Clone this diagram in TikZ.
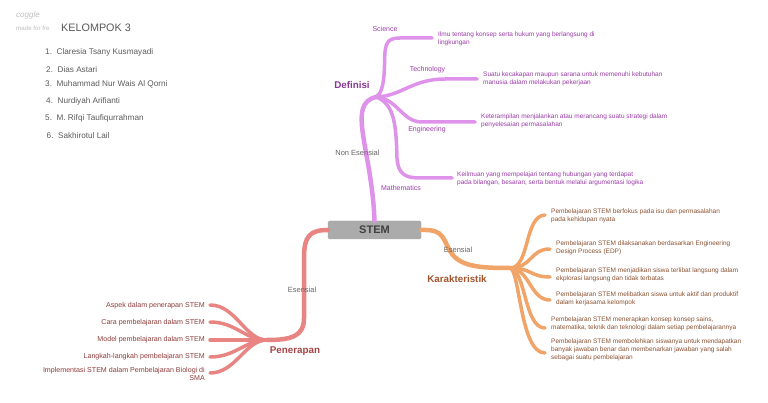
\documentclass[tikz,border=0pt]{standalone}
\usepackage{fontspec}
\setmainfont{Liberation Sans}
\definecolor{pinkline}{HTML}{DF92EA}
\definecolor{pinktext}{HTML}{9A3CA8}
\definecolor{pinkhead}{HTML}{8A3898}
\definecolor{orline}{HTML}{F0A468}
\definecolor{ortext}{HTML}{8A5232}
\definecolor{orhead}{HTML}{A0552E}
\definecolor{redline}{HTML}{E88482}
\definecolor{redtext}{HTML}{8E3C3C}
\definecolor{redhead}{HTML}{A64444}
\definecolor{grtext}{HTML}{666666}
\begin{document}
\begin{tikzpicture}[x=1pt,y=-1pt,
  trunk/.style={line width=4.5pt,line cap=round},
  leafline/.style={line width=3.5pt,line cap=round},
  leaf/.style={font=\fontsize{6.5}{8}\selectfont,align=left,anchor=west,inner sep=0pt},
  lbl/.style={font=\fontsize{7}{8}\selectfont,inner sep=0pt},
  glbl/.style={font=\fontsize{7.5}{8}\selectfont,inner sep=0pt,text=grtext},
  head/.style={font=\fontsize{9.8}{11}\selectfont\bfseries,inner sep=0pt},
  rleaf/.style={font=\fontsize{7.1}{8}\selectfont,align=right,anchor=east,inner sep=0pt,text=redtext},
  item/.style={font=\fontsize{8.2}{9}\selectfont,anchor=west,inner sep=0pt,text=grtext!90!black}]
\useasboundingbox (0,0) rectangle (768,403);
\fill[white] (0,0) rectangle (768,403);

% watermark and title
\node[anchor=west,inner sep=0pt,text=black!25,font=\fontsize{8}{9}\selectfont\itshape] (cg) at (16,15) {coggle};
\node[anchor=west,inner sep=0pt,text=black!25,font=\fontsize{6.2}{7}\selectfont] (mf) at (16,28) {made for fre};
\node[anchor=west,inner sep=0pt,text=black!65,font=\fontsize{10.8}{12}\selectfont] (kel) at (61,28) {KELOMPOK 3};
\node[item] (i1) at (45,52) {1.\ \ Claresia Tsany Kusmayadi};
\node[item] (i2) at (46,69.5) {2.\ \ Dias Astari};
\node[item] (i3) at (45,84.5) {3.\ \ Muhammad Nur Wais Al Qorni};
\node[item] (i4) at (46,101) {4.\ \ Nurdiyah Arifianti};
\node[item] (i5) at (45,118) {5.\ \ M. Rifqi Taufiqurrahman};
\node[item] (i6) at (46.5,136) {6.\ \ Sakhirotul Lail};

% central node
\node[draw=black!35,fill=black!33,rounded corners=1.5pt,minimum width=93pt,minimum height=18pt,inner sep=0pt,font=\fontsize{11}{12}\selectfont\bfseries,text=black!75] (stem) at (374.5,230) {STEM};

% hubs
\coordinate (hd) at (376,97);
\coordinate (hk) at (510,268);
\coordinate (hp) at (267,340);

% ---- Definisi (pink)
\draw[pinkline,trunk] (stem.north) .. controls (372,150) and (346,104) .. (hd);
\coordinate (es) at (432,38);
\coordinate (et) at (477,79);
\coordinate (ee) at (475,122);
\coordinate (em) at (452,178);
\draw[pinkline,leafline] (hd) .. controls (386,92) and (384,62) .. (385,52) .. controls (386,41) and (390,38) .. (400,38) -- (es);
\draw[pinkline,leafline] (hd) .. controls (402,96) and (412,79) .. (445,79) -- (et);
\draw[pinkline,leafline] (hd) .. controls (398,99) and (402,122) .. (422,122) -- (ee);
\draw[pinkline,leafline] (hd) .. controls (396,104) and (396,130) .. (397,158) .. controls (398,174) and (405,178) .. (420,178) -- (em);

\node[head,text=pinkhead] (def) at (352,85.5) {Definisi};
\node[glbl] (nes) at (357.5,152.5) {Non Esensial};
\node[lbl,text=pinktext] (ls) at (385,29) {Science};
\node[lbl,text=pinktext] (lt) at (427.5,69.5) {Technology};
\node[lbl,text=pinktext] (le) at (427,129.5) {Engineering};
\node[lbl,text=pinktext] (lm) at (401,187.5) {Mathematics};

\node[leaf,text=pinktext] (ts) at (438,39) {Ilmu tentang konsep serta hukum yang berlangsung di\\lingkungan};
\node[leaf,text=pinktext] (tt) at (483,78.5) {Suatu kecakapan maupun sarana untuk memenuhi kebutuhan\\manusia dalam melakukan pekerjaan};
\node[leaf,text=pinktext] (te) at (481,121) {Keterampilan menjalankan atau merancang suatu strategi dalam\\penyelesaian permasalahan};
\node[leaf,text=pinktext] (tm) at (457,178.5) {Keilmuan yang mempelajari tentang hubungan yang terdapat\\pada bilangan, besaran, serta bentuk melalui argumentasi logika};

% ---- Karakteristik (orange)
\draw[orline,trunk] (stem.east) .. controls (446,229) and (442,240) .. (452,254) .. controls (462,267) and (482,268) .. (hk);
\coordinate (k1) at (545,215);
\coordinate (k2) at (550,249);
\coordinate (k3) at (550,277);
\coordinate (k4) at (550,300);
\coordinate (k5) at (545,328);
\coordinate (k6) at (545,353);
\draw[orline,leafline] (hk) .. controls (530,268) and (524,216) .. (k1);
\draw[orline,leafline] (hk) .. controls (532,268) and (530,249) .. (k2);
\draw[orline,leafline] (hk) .. controls (532,268) and (530,277) .. (k3);
\draw[orline,leafline] (hk) .. controls (530,269) and (530,300) .. (k4);
\draw[orline,leafline] (hk) .. controls (526,270) and (524,328) .. (k5);
\draw[orline,leafline] (hk) .. controls (520,270) and (520,353) .. (k6);

\node[glbl] (kes) at (458,249.5) {Esensial};
\node[head,text=orhead] (kar) at (457,279) {Karakteristik};

\node[leaf,text=ortext] (t1) at (551,216) {Pembelajaran STEM berfokus pada isu dan permasalahan\\pada kehidupan nyata};
\node[leaf,text=ortext] (t2) at (556,248) {Pembelajaran STEM dilaksanakan berdasarkan Engineering\\Design Process (EDP)};
\node[leaf,text=ortext] (t3) at (556,275) {Pembelajaran STEM menjadikan siswa terlibat langsung dalam\\ekplorasi langsung dan tidak terbatas};
\node[leaf,text=ortext] (t4) at (556,299) {Pembelajaran STEM melibatkan siswa untuk aktif dan produktif\\dalam kerjasama kelompok};
\node[leaf,text=ortext] (t5) at (551,323.5) {Pembelajaran STEM menerapkan konsep konsep sains,\\matematika, teknik dan teknologi dalam setiap pembelajarannya};
\node[leaf,text=ortext] (t6) at (551,350) {Pembelajaran STEM membolehkan siswanya untuk mendapatkan\\banyak jawaban benar dan membenarkan jawaban yang salah\\sebagai suatu pembelajaran};

% ---- Penerapan (red)
\draw[redline,trunk] (stem.west) .. controls (310,230) and (304,236) .. (304,258) -- (304,318) .. controls (304,336) and (292,340) .. (hp);
\coordinate (p1) at (210,305);
\coordinate (p2) at (210,322);
\coordinate (p3) at (210,340);
\coordinate (p4) at (210,357);
\coordinate (p5) at (210,373);
\draw[redline,leafline] (hp) .. controls (245,340) and (236,305) .. (p1);
\draw[redline,leafline] (hp) .. controls (245,340) and (236,322) .. (p2);
\draw[redline,leafline] (hp) -- (p3);
\draw[redline,leafline] (hp) .. controls (245,340) and (236,357) .. (p4);
\draw[redline,leafline] (hp) .. controls (245,340) and (236,373) .. (p5);

\node[glbl] (pes) at (302,289.5) {Esensial};
\node[head,text=redhead] (pen) at (295,351) {Penerapan};

\node[rleaf] (r1) at (205,305.5) {Aspek dalam penerapan STEM};
\node[rleaf] (r2) at (205,322.5) {Cara pembelajaran dalam STEM};
\node[rleaf] (r3) at (205,340) {Model pembelajaran dalam STEM};
\node[rleaf] (r4) at (205,357) {Langkah-langkah pembelajaran STEM};
\node[rleaf] (r5) at (205,374) {Implementasi STEM dalam Pembelajaran Biologi di\\SMA};
\end{tikzpicture}
\end{document}
